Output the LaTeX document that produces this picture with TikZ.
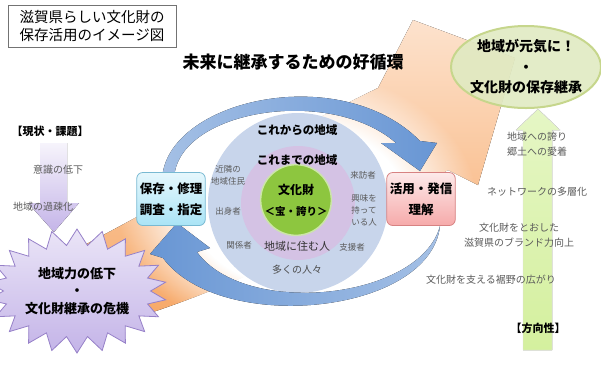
\documentclass[tikz,border=0pt]{standalone}
\usepackage{fontspec}
\setmainfont{Noto Sans CJK JP}
\usepackage{tikz}
\usetikzlibrary{shapes, shapes.symbols, positioning, fadings}
\definecolor{ringblue}{RGB}{104,150,212}
\definecolor{circblue}{RGB}{200,213,235}
\definecolor{circpurple}{RGB}{212,194,228}
\definecolor{coregreen}{RGB}{141,198,63}
\definecolor{boxcyan}{RGB}{170,228,246}
\definecolor{cyanline}{RGB}{120,185,210}
\definecolor{boxpink}{RGB}{246,170,170}
\definecolor{pinkline}{RGB}{215,130,130}
\definecolor{ellgreen}{RGB}{224,234,194}
\definecolor{ellborder}{RGB}{198,214,140}
\definecolor{lime}{RGB}{212,240,158}
\definecolor{lav}{RGB}{196,180,232}
\definecolor{lavline}{RGB}{150,128,200}
\definecolor{peach}{RGB}{252,214,184}
\definecolor{deeporange}{RGB}{245,155,80}
\definecolor{txtgray}{RGB}{90,90,90}
\pgfdeclareradialshading{ringglowshade}{\pgfpointorigin}{color(0bp)=(pgftransparent!0); color(15bp)=(pgftransparent!0); color(25bp)=(pgftransparent!100); color(50bp)=(pgftransparent!100)}
\pgfdeclarefading{ringglow}{\pgfuseshading{ringglowshade}}

\begin{document}
\begin{tikzpicture}[x=1pt,y=-1pt,
    every node/.style={align=center, inner sep=0pt, font=\fontsize{10}{12}\selectfont},
    note/.style={text=txtgray, font=\fontsize{8.5}{12}\selectfont},
    side/.style={text=txtgray, font=\fontsize{10}{15.5}\selectfont},
    tag/.style={font=\bfseries\fontsize{11}{13}\selectfont},
    ring/.style={font=\bfseries\fontsize{11.5}{14}\selectfont},
    stagebox/.style={draw, rounded corners=6pt, line width=0.8pt, inner xsep=3pt, minimum height=53pt, font=\bfseries\fontsize{12.5}{21}\selectfont}]
    \useasboundingbox (0,0) rectangle (601,368);

    % big orange arrow behind everything
    \fill[top color=peach!70!white, bottom color=deeporange!80!peach] (75,250) .. controls (180,195) and (300,125) .. (378,88) -- (413,20) -- (515,58) -- (478,185) -- (448,170) .. controls (340,235) and (220,295) .. (110,325) -- cycle;
    \fill[white, path fading=ringglow] (297,205) ellipse [x radius=180, y radius=135];

    % circles
    \node[circle, fill=circblue, minimum size=180pt] (Outer) at (298,203) {};
    \node[circle, fill=circpurple, minimum size=114pt] (Inner) at (298,203) {};
    \node[circle, fill=coregreen, draw=white!55!coregreen, line width=1.5pt, minimum size=62pt, font=\bfseries\fontsize{12}{21}\selectfont] (Core) at (296,200) {文化財\\{\fontsize{10.5}{12}\selectfont ＜宝・誇り＞}};

    % blue cycle
    \fill[left color=ringblue!60!white, right color=ringblue] (162,180) .. controls (165,100) and (340,60) .. (420,141) -- (437,143) -- (420,171) -- (381,143) -- (396,143) .. controls (330,85) and (175,110) .. (174,180) -- cycle;
    \fill[left color=ringblue, right color=ringblue!60!white] (440,226) .. controls (430,315) and (220,335) .. (163,258) -- (150,254) -- (177,223) -- (210,248) -- (197,252) .. controls (245,318) and (420,300) .. (440,226) -- cycle;

    \node[stagebox, draw=cyanline, top color=boxcyan!30!white, bottom color=boxcyan] (Keep) at (171,199) {保存・修理\\調査・指定};
    \node[stagebox, draw=pinkline, top color=boxpink!25!white, bottom color=boxpink] (Use) at (421,199) {活用・発信\\理解};

    % left side
    \fill[top color=lav!15!white, bottom color=lav] (40,143) -- (67,143) -- (67,203) -- (79,203) -- (54,232) -- (28,203) -- (40,203) -- cycle;
    \node[starburst, starburst points=22, starburst point height=16pt, random starburst=0, minimum width=150pt, minimum height=124pt, top color=lav!35!white, bottom color=lav, draw=lavline, line width=0.8pt, font=\bfseries\fontsize{13}{17.5}\selectfont] (Crisis) at (77,291) {地域力の低下\\・\\文化財継承の危機};

    % right side
    \fill[top color=lime!60!white, bottom color=lime, draw=black!12] (523,350) -- (523,130) -- (516,130) -- (538,109) -- (560,130) -- (552,130) -- (552,350) -- cycle;
    \node[ellipse, fill=ellgreen, fill opacity=0.9, text opacity=1, draw=ellborder, line width=2pt, inner xsep=-3pt, minimum width=148pt, minimum height=82pt, font=\bfseries\fontsize{14}{20.5}\selectfont] (Goal) at (526,67) {地域が元気に！\\・\\文化財の保存継承};

    % texts
    \node[draw=black!55, minimum width=168pt, minimum height=42pt, font=\fontsize{14.5}{18}\selectfont] (Title) at (92,26) {滋賀県らしい文化財の\\保存活用のイメージ図};
    \node[font=\bfseries\fontsize{17}{20}\selectfont] (Motto) at (293,62) {未来に継承するための好循環};

    \node[ring] (Next) at (297,130) {これからの地域};
    \node[ring] (Past) at (297,160) {これまでの地域};
    \node[text=black!80, font=\fontsize{11}{13}\selectfont] (Live) at (297,246) {地域に住む人};
    \node[text=black!70, font=\fontsize{10}{12}\selectfont] (Many) at (297,270) {多くの人々};
    \node[note] (Near) at (228,175) {近隣の\\地域住民};
    \node[note] (Born) at (228,211) {出身者};
    \node[note] (Tied) at (239,245) {関係者};
    \node[note] (Visit) at (363,175) {来訪者};
    \node[note] (Fan) at (364,210) {興味を\\持って\\いる人};
    \node[note] (Help) at (352,247) {支援者};

    \node[tag] (Now) at (50,131) {【現状・課題】};
    \node[side] (Aware) at (58,170) {意識の低下};
    \node[side] (Depop) at (43,207) {地域の過疎化};

    \node[side] (Pride) at (537,144) {地域への誇り\\郷土への愛着};
    \node[side] (Net) at (537,192) {ネットワークの多層化};
    \node[side] (Brand) at (519,235) {文化財をとおした\\滋賀県のブランド力向上};
    \node[side] (Base) at (491,280) {文化財を支える裾野の広がり};
    \node[tag] (Way) at (538,328) {【方向性】};
\end{tikzpicture}
\end{document}
